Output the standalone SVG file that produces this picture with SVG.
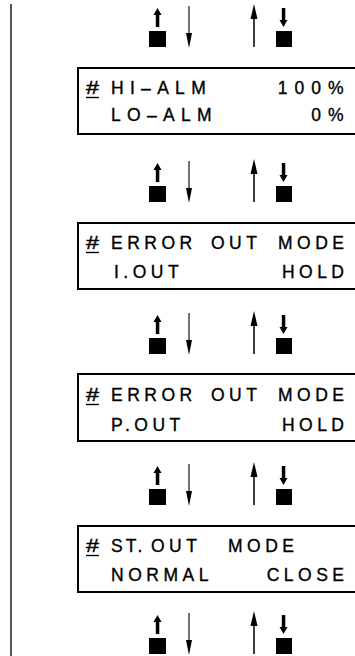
<svg xmlns="http://www.w3.org/2000/svg" xmlns:xlink="http://www.w3.org/1999/xlink" width="355" height="656" viewBox="0 0 355 656">
<style>
.t{font-family:"Liberation Sans",Arial,Helvetica,sans-serif;font-size:17.5px;letter-spacing:4.5px;fill:#000;stroke:#000;stroke-width:0.35}
.w{letter-spacing:6.3px}
.n{letter-spacing:7px}
.p{letter-spacing:3px}
.h{font-family:"Liberation Sans",Arial,Helvetica,sans-serif;font-size:18px;fill:#000;stroke:#000;stroke-width:0.4}
.box{fill:#fff;stroke:#000;stroke-width:2}
.ul{stroke:#000;stroke-width:1.4}
.ln{stroke:#444;stroke-width:1.5}
.lnb{stroke:#000;stroke-width:1.5}
</style>
<defs>
<g id="keyset">
<rect x="149" y="0" width="17" height="16"/>
<rect x="155.8" y="-16" width="3.5" height="12"/>
<polygon points="153.5,-16 161.5,-16 157.5,-23"/>
<line class="ln" x1="189" y1="-25" x2="189" y2="3"/>
<polygon points="186,2 192,2 189,17"/>
<line class="lnb" x1="254" y1="16" x2="254" y2="-13"/>
<polygon points="250.5,-12 257.5,-12 254,-27"/>
<rect x="276" y="0" width="16" height="16"/>
<rect x="281.8" y="-23" width="3.5" height="12"/>
<polygon points="279.5,-11 287.5,-11 283.5,-4"/>
</g>
</defs>
<rect width="355" height="656" fill="#fff"/>
<g id="rail"><line x1="11" y1="4" x2="11" y2="656" stroke="#555" stroke-width="2"/></g>
<g id="connectors">
<use xlink:href="#keyset" transform="translate(0,31)"/>
<use xlink:href="#keyset" transform="translate(0,186)"/>
<use xlink:href="#keyset" transform="translate(0,338)"/>
<use xlink:href="#keyset" transform="translate(0,489)"/>
<use xlink:href="#keyset" transform="translate(0,638)"/>
</g>
<g id="screen1">
<rect class="box" x="78" y="68" width="290" height="66"/>
<text class="h" x="86" y="94" textLength="13" lengthAdjust="spacingAndGlyphs">#</text><line class="ul" x1="86" y1="97.5" x2="99" y2="97.5"/>
<text class="t" y="94"><tspan class="w" x="111">HI–ALM </tspan><tspan class="n" x="350.6" text-anchor="end">100%</tspan></text>
<text class="t" y="121"><tspan class="w" x="111">LO–ALM </tspan><tspan class="n" x="350.6" text-anchor="end">0%</tspan></text>
</g>
<g id="screen2">
<rect class="box" x="78" y="223" width="290" height="66"/>
<text class="h" x="86" y="249" textLength="13" lengthAdjust="spacingAndGlyphs">#</text><line class="ul" x1="86" y1="252.5" x2="99" y2="252.5"/>
<text class="t" y="249"><tspan x="111">ERROR </tspan><tspan x="211">OUT </tspan><tspan x="278">MODE</tspan></text>
<text class="t" y="278"><tspan x="114">I.OUT </tspan><tspan x="348.5" text-anchor="end">HOLD</tspan></text>
</g>
<g id="screen3">
<rect class="box" x="78" y="374" width="290" height="67"/>
<text class="h" x="86" y="401" textLength="13" lengthAdjust="spacingAndGlyphs">#</text><line class="ul" x1="86" y1="404.5" x2="99" y2="404.5"/>
<text class="t" y="401"><tspan x="111">ERROR </tspan><tspan x="211">OUT </tspan><tspan x="278">MODE</tspan></text>
<text class="t" y="431"><tspan x="111">P.OUT </tspan><tspan x="348.5" text-anchor="end">HOLD</tspan></text>
</g>
<g id="screen4">
<rect class="box" x="78" y="526" width="290" height="66"/>
<text class="h" x="86" y="552" textLength="13" lengthAdjust="spacingAndGlyphs">#</text><line class="ul" x1="86" y1="555.5" x2="99" y2="555.5"/>
<text class="t" y="552"><tspan class="p" x="111">ST. </tspan><tspan x="151">OUT </tspan><tspan x="228">MODE</tspan></text>
<text class="t" y="581"><tspan x="111">NORMAL </tspan><tspan x="348.5" text-anchor="end">CLOSE</tspan></text>
</g>
</svg>
